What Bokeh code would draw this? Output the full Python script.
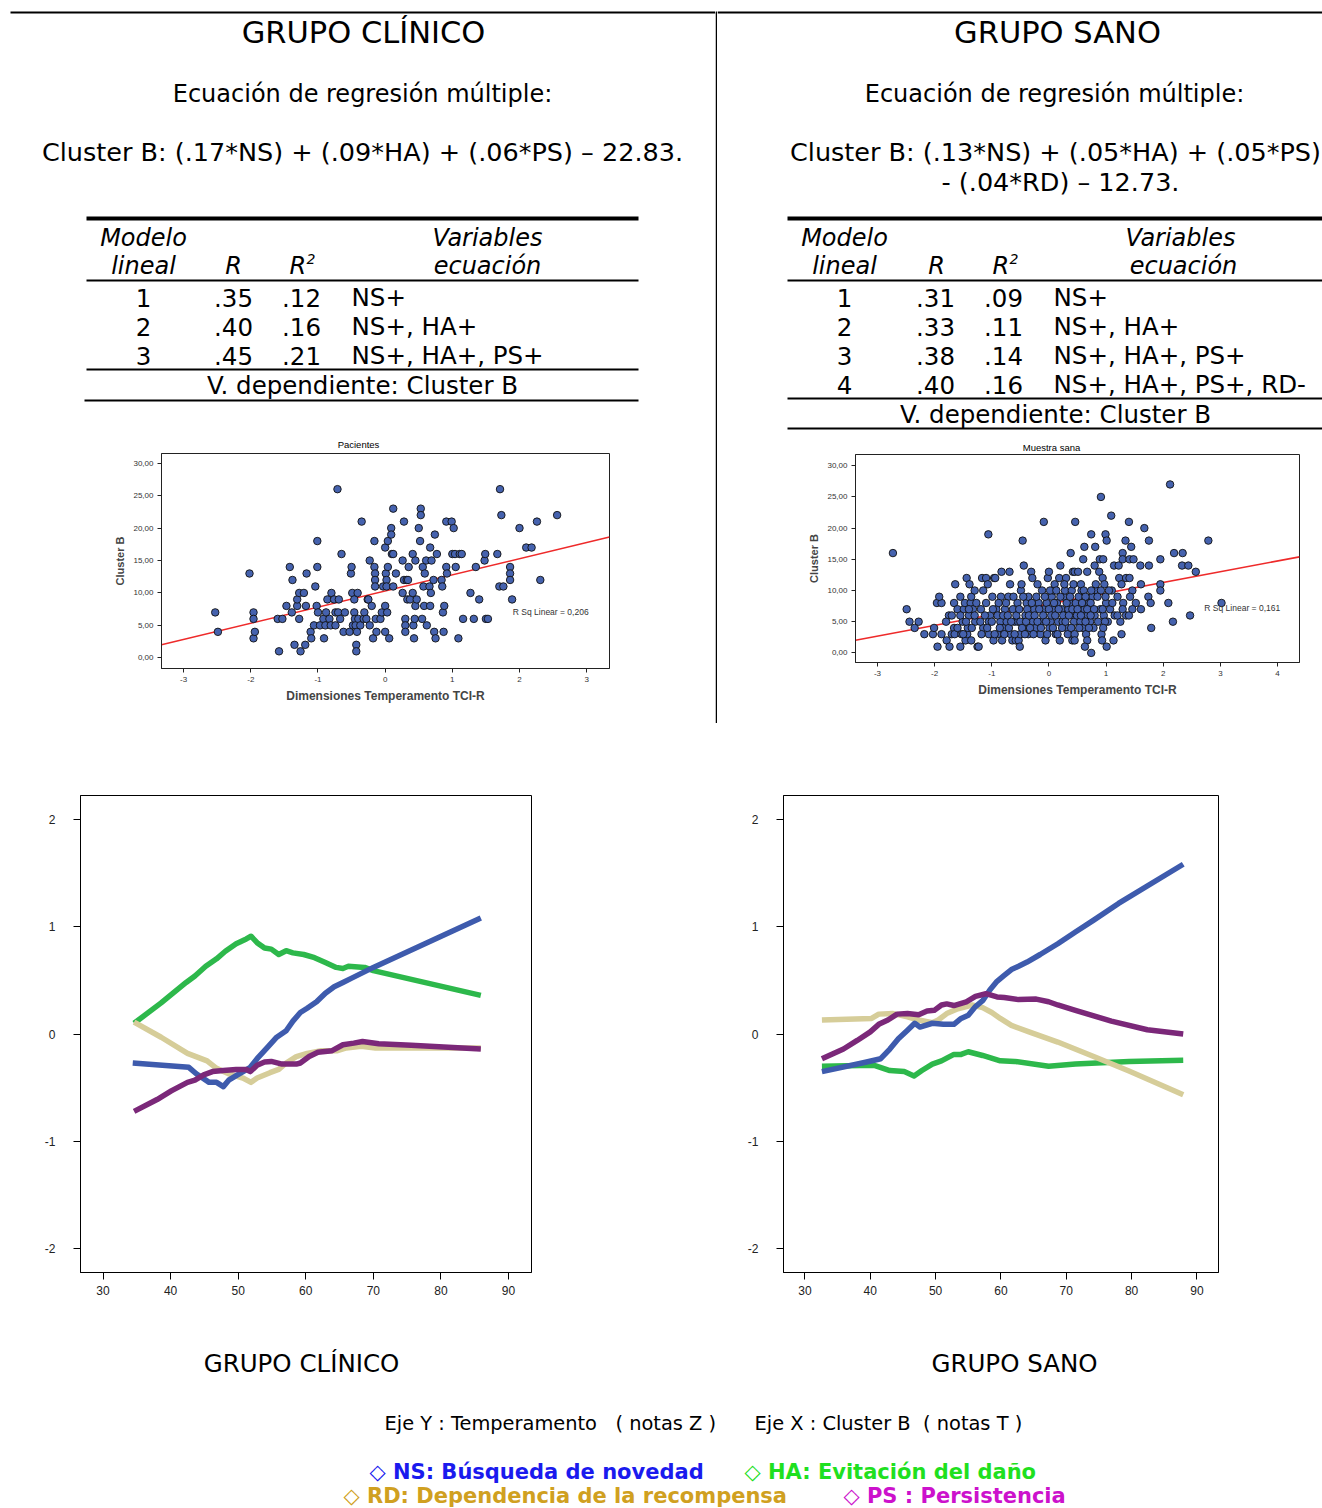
from bokeh.plotting import figure
from bokeh.layouts import column, row
from bokeh.models import Range1d, FixedTicker, CustomJSTickFormatter
from bokeh.core.properties import value
from bokeh.embed import file_html
from bokeh.resources import INLINE

# ---------------- DATA ----------------
# Scatter "Pacientes" (clinical group): x = TCI-R dimension (z), y = Cluster B
pac_x = [-2.53, -2.49, -2.02, -1.96, -1.96, -1.96, -1.94, -1.58, -1.60, -1.53, -1.47, -1.42, -1.38, -1.39,
         -1.35, -1.31, -1.31, -1.28, -1.28, -1.26, -1.21, -1.19, -1.18, -1.17, -1.11, -1.10, -1.06, -1.04,
         -1.02, -1.01, -1.01, -1.00, -0.97, -0.92, -0.91, -0.89, -0.88, -0.86, -0.83, -0.81, -0.80, -0.76,
         -0.74, -0.74, -0.71, -0.70, -0.69, -0.67, -0.65, -0.62, -0.60, -0.53, -0.51, -0.50, -0.49, -0.48,
         -0.46, -0.46, -0.45, -0.44, -0.43, -0.43, -0.42, -0.41, -0.40, -0.37, -0.35, -0.32, -0.31, -0.28,
         -0.26, -0.25, -0.23, -0.23, -0.20, -0.18, -0.16, -0.16, -0.15, -0.15, -0.15, -0.14, -0.13, -0.07,
         -0.05, -0.03, 0.00, 0.00, 0.00, 0.01, 0.02, 0.02, 0.03, 0.04, 0.04, 0.06, 0.09, 0.09, 0.10, 0.12,
         0.12, 0.12, 0.16, 0.26, 0.26, 0.28, 0.28, 0.30, 0.30, 0.30, 0.32, 0.33, 0.34, 0.35, 0.37, 0.41,
         0.41, 0.42, 0.43, 0.44, 0.45, 0.45, 0.47, 0.50, 0.52, 0.53, 0.53, 0.55, 0.56, 0.57, 0.58, 0.59,
         0.61, 0.62, 0.66, 0.67, 0.67, 0.68, 0.69, 0.72, 0.73, 0.74, 0.75, 0.77, 0.84, 0.85, 0.86, 0.87,
         0.88, 0.91, 0.91, 0.92, 0.99, 1.00, 1.02, 1.04, 1.05, 1.09, 1.11, 1.14, 1.16, 1.27, 1.32, 1.35,
         1.40, 1.48, 1.49, 1.50, 1.53, 1.67, 1.70, 1.71, 1.73, 1.76, 1.86, 1.86, 1.86, 1.89, 2.00, 2.10,
         2.18, 2.26, 2.31, 2.56]
pac_y = [7, 4, 13, 7, 6, 3, 4, 1, 6, 6, 8, 14, 12, 7,
         2, 8, 9, 10, 6, 1, 10, 2, 8, 13, 4, 3, 5, 11,
         8, 18, 14, 7, 5, 6, 3, 5, 7, 9, 6, 5, 10, 9,
         5, 7, 26, 7, 9, 6, 16, 4, 7, 4, 13, 14, 10, 5,
         7, 9, 6, 5, 2, 1, 4, 10, 6, 5, 21, 6, 7, 6,
         9, 9, 15, 5, 8, 3, 18, 14, 13, 12, 11, 6, 4, 6,
         7, 11, 17, 8, 4, 13, 12, 11, 7, 14, 18, 3, 20, 19, 16, 23,
         11, 16, 13, 15, 10, 21, 12, 6, 5, 4, 12, 9, 12, 14, 9, 16,
         10, 5, 3, 6, 15, 8, 9, 20, 18, 23, 22, 6, 14, 11, 8, 13,
         15, 5, 11, 8, 17, 10, 15, 12, 4, 19, 3, 16, 12, 11, 7, 4,
         8, 21, 14, 13, 21, 16, 20, 16, 14, 3, 16, 16, 6, 10, 6, 14,
         9, 15, 16, 6, 6, 16, 11, 26, 22, 11, 14, 13, 12, 9, 20, 17,
         17, 21, 12, 22]
pac_fit = [10.3, 2.49]          # intercept, slope of the linear fit
pac_rsq = "R Sq Linear = 0,206"

# Scatter "Muestra sana" (healthy group)
sana_pts = [
    (-2.73, 16), (-2.49, 7), (-2.44, 5), (-2.35, 4), (-2.28, 5), (-2.18, 3), (-2.03, 3), (-2.01, 4),
    (-1.95, 1), (-1.96, 8), (-1.88, 8), (-1.92, 9), (-1.88, 3), (-1.79, 2), (-1.75, 6), (-1.74, 1),
    (-1.70, 3), (-1.66, 4), (-1.66, 8), (-1.65, 3), (-1.64, 11), (-1.60, 7), (-1.55, 9), (-1.55, 1),
    (-1.53, 3), (-1.51, 5), (-1.49, 7), (-1.47, 8), (-1.46, 2), (-1.44, 12), (-1.43, 3), (-1.42, 4),
    (-1.40, 6), (-1.39, 11), (-1.37, 8), (-1.36, 9), (-1.36, 2), (-1.33, 7), (-1.30, 10), (-1.29, 5),
    (-1.25, 1), (-1.23, 1), (-1.19, 7), (-1.17, 12), (-1.10, 12), (-1.15, 10), (-1.15, 4), (-1.10, 8),
    (-1.07, 11), (-1.06, 19), (-1.05, 5), (-1.05, 3), (-1.03, 6), (-0.99, 9), (-0.97, 2), (-0.96, 12),
    (-0.94, 12), (-0.92, 7), (-0.90, 3), (-0.85, 5), (-0.84, 9), (-0.83, 13), (-0.82, 2), (-0.80, 4),
    (-0.77, 7), (-0.74, 5), (-0.71, 9), (-0.69, 13), (-0.68, 11), (-0.67, 3), (-0.64, 2), (-0.63, 7),
    (-0.60, 5), (-0.58, 2), (-0.55, 8), (-0.54, 5), (-0.53, 2), (-0.51, 1), (-0.50, 3), (-0.49, 10),
    (-0.48, 11), (-0.46, 18), (-0.44, 14), (-0.44, 4), (-0.41, 6), (-0.39, 8), (-0.36, 3), (-0.36, 9),
    (-0.31, 13), (-0.29, 12), (-0.28, 5), (-0.26, 7), (-0.23, 4), (-0.20, 11), (-0.18, 8), (-0.15, 3),
    (-0.13, 5), (-0.12, 10), (-0.09, 21), (-0.08, 7), (-0.06, 2), (-0.04, 8), (-0.02, 12), (0.00, 13),
    (0.01, 4), (0.03, 5), (0.05, 9), (0.06, 7), (0.08, 10), (0.10, 11), (0.12, 3), (0.14, 8),
    (0.16, 5), (0.18, 12), (0.19, 2), (0.20, 14), (0.22, 7), (0.24, 5), (0.26, 9), (0.28, 10),
    (0.30, 12), (0.32, 4), (0.34, 7), (0.36, 8), (0.38, 16), (0.40, 10), (0.41, 2), (0.42, 13),
    (0.44, 6), (0.44, 5), (0.46, 21),
    (-1.80, 5), (-1.70, 6), (-1.60, 4), (-1.55, 6), (-1.50, 3), (-1.45, 5), (-1.40, 7), (-1.35, 4),
    (-1.30, 6), (-1.27, 8), (-1.20, 5), (-1.18, 3), (-1.12, 6), (-1.08, 4), (-1.00, 5), (-0.98, 7),
    (-0.95, 3), (-0.90, 6), (-0.88, 8), (-0.86, 4), (-0.80, 6), (-0.78, 3), (-0.75, 8), (-0.72, 6),
    (-0.70, 4), (-0.66, 5), (-0.62, 9), (-0.60, 3), (-0.57, 6), (-0.52, 7), (-0.50, 5), (-0.47, 4),
    (-0.45, 9), (-0.42, 3), (-0.40, 5), (-0.38, 7), (-0.35, 6), (-0.33, 4), (-0.30, 8), (-0.27, 3),
    (-0.25, 6), (-0.22, 9), (-0.20, 5), (-0.17, 7), (-0.14, 4), (-0.10, 6), (-0.07, 9), (-0.05, 5),
    (-0.03, 3), (0.00, 7), (0.02, 10), (0.04, 6), (0.07, 4), (0.09, 8), (0.11, 6), (0.13, 10),
    (0.15, 3), (0.17, 7), (0.20, 9), (0.23, 4), (0.25, 6), (0.27, 11), (0.29, 5), (0.31, 8),
    (0.33, 3), (0.35, 6), (0.37, 9), (0.39, 4), (0.41, 7), (0.43, 11), (0.45, 3), (0.47, 8),
    (0.49, 6), (0.52, 9), (0.55, 5), (0.57, 10), (0.60, 4), (0.62, 7), (0.65, 3), (0.68, 6),
    (0.70, 8), (0.72, 5), (0.76, 9), (0.78, 4), (0.80, 6), (0.83, 10), (0.86, 5), (0.90, 7),
    (0.92, 3), (0.96, 6), (1.00, 8), (1.03, 5), (1.07, 7), (1.10, 10), (1.15, 6), (1.20, 9),
    (1.25, 5), (1.30, 8),
    (2.12, 27), (0.91, 25), (1.09, 22), (1.40, 21), (1.67, 20), (0.74, 19), (0.99, 19), (1.01, 18),
    (1.75, 18), (2.79, 18), (1.34, 18), (0.62, 17), (0.81, 17), (1.44, 17), (1.29, 16), (2.19, 16),
    (2.34, 16), (0.60, 15), (0.89, 15), (0.95, 15), (1.29, 15), (1.41, 15), (1.48, 15), (1.95, 15),
    (1.14, 14), (1.22, 14), (0.80, 14), (1.60, 14), (1.75, 14), (2.33, 14), (2.44, 14), (2.57, 13),
    (0.45, 13), (0.51, 13), (0.67, 13), (0.88, 13), (0.94, 12), (1.23, 12), (1.35, 12), (1.41, 12),
    (1.27, 11), (1.61, 11), (1.95, 11), (0.56, 11), (0.82, 11), (0.97, 11), (0.61, 10), (0.74, 10),
    (0.91, 10), (1.05, 10), (1.46, 10), (1.95, 10), (0.64, 9), (0.85, 9), (0.99, 9), (1.42, 9),
    (1.74, 9), (0.58, 8), (0.73, 8), (1.11, 8), (1.52, 8), (1.78, 8), (2.09, 8), (3.02, 8),
    (0.50, 7), (0.67, 7), (0.79, 7), (0.94, 7), (1.29, 7), (1.46, 7), (1.61, 7), (0.56, 6),
    (0.73, 6), (1.20, 6), (1.35, 6), (1.40, 6), (2.47, 6), (2.17, 5), (0.98, 5), (0.64, 5),
    (1.79, 4), (0.95, 4), (0.70, 4), (0.53, 4), (1.27, 3), (1.13, 2), (0.93, 2), (0.67, 2),
    (0.45, 2), (0.63, 1), (1.01, 1), (0.74, 0),
]
sana_x = [p[0] for p in sana_pts]
sana_y = [p[1] for p in sana_pts]
sana_fit = [7.85, 1.72]
sana_rsq = "R Sq Linear = 0,161"

# Line plots (Temperament z-scores vs Cluster B T-scores)
cli_ns_x = [34.4, 42.7, 43.8, 45.7, 46.8, 47.8, 48.6, 49.9, 51.8, 52.8, 54.4, 55.7, 57.1, 58.1, 59.2, 60.2,
            61.6, 62.9, 64.2, 65.5, 66.8, 70.0, 85.9]
cli_ns_y = [-0.27, -0.31, -0.37, -0.45, -0.45, -0.49, -0.43, -0.38, -0.31, -0.23, -0.12, -0.03, 0.03, 0.12,
            0.20, 0.24, 0.30, 0.38, 0.44, 0.48, 0.52, 0.62, 1.08]
cli_ha_x = [34.6, 38.6, 42.3, 43.6, 45.2, 46.8, 48.1, 49.7, 51.2, 51.9, 52.8, 53.9, 54.9, 56.0, 57.1, 58.1,
            59.7, 61.3, 62.9, 64.5, 65.5, 66.3, 68.7, 70.0, 85.9]
cli_ha_y = [0.10, 0.29, 0.48, 0.54, 0.63, 0.70, 0.77, 0.84, 0.885, 0.91, 0.85, 0.80, 0.79, 0.74, 0.775, 0.755,
            0.74, 0.71, 0.665, 0.62, 0.61, 0.63, 0.62, 0.59, 0.36]
cli_rd_x = [34.6, 38.6, 42.5, 45.4, 46.8, 48.6, 50.7, 51.9, 52.8, 54.7, 56.0, 57.1, 58.6, 60.2, 62.3, 64.7,
            66.0, 68.2, 70.3, 85.9]
cli_rd_y = [0.11, -0.03, -0.18, -0.25, -0.32, -0.37, -0.41, -0.45, -0.41, -0.36, -0.33, -0.27, -0.21, -0.18,
            -0.155, -0.155, -0.13, -0.115, -0.13, -0.13]
cli_ps_x = [34.6, 38.0, 40.1, 42.5, 43.6, 44.9, 46.2, 47.8, 49.7, 51.2, 51.8, 52.8, 53.9, 54.9, 56.5, 58.6,
            59.2, 60.5, 61.8, 63.9, 65.5, 67.1, 68.4, 70.8, 75.6, 85.9]
cli_ps_y = [-0.72, -0.61, -0.53, -0.45, -0.43, -0.38, -0.35, -0.34, -0.33, -0.33, -0.35, -0.29, -0.26, -0.255,
            -0.28, -0.28, -0.27, -0.21, -0.17, -0.155, -0.10, -0.085, -0.07, -0.09, -0.105, -0.14]

san_ns_x = [32.6, 39.1, 41.6, 43.0, 44.3, 45.7, 46.8, 47.6, 49.5, 51.2, 52.8, 53.9, 55.0, 56.1, 57.2, 58.3,
            59.4, 60.5, 61.6, 62.7, 64.0, 66.0, 68.7, 71.4, 74.2, 78.0, 87.9]
san_ns_y = [-0.35, -0.265, -0.23, -0.14, -0.045, 0.035, 0.10, 0.065, 0.10, 0.09, 0.09, 0.145, 0.175, 0.255,
            0.31, 0.41, 0.49, 0.545, 0.60, 0.63, 0.67, 0.74, 0.84, 0.95, 1.06, 1.215, 1.58]
san_ha_x = [32.6, 40.5, 43.0, 45.2, 46.7, 47.9, 49.5, 50.9, 52.8, 53.9, 55.0, 57.2, 59.9, 62.1, 67.3, 71.4,
            79.6, 87.9]
san_ha_y = [-0.30, -0.29, -0.34, -0.35, -0.39, -0.34, -0.28, -0.25, -0.19, -0.19, -0.165, -0.20, -0.25,
            -0.255, -0.30, -0.28, -0.255, -0.245]
san_rd_x = [32.6, 40.2, 41.3, 43.5, 45.7, 47.4, 49.5, 50.4, 51.7, 53.4, 55.6, 57.2, 58.6, 59.9, 61.6, 64.3,
            68.7, 74.2, 79.6, 87.9]
san_rd_y = [0.13, 0.145, 0.185, 0.19, 0.16, 0.13, 0.105, 0.13, 0.19, 0.235, 0.27, 0.245, 0.20, 0.145, 0.08,
            0.02, -0.075, -0.21, -0.345, -0.565]
san_ps_x = [32.6, 35.9, 38.0, 40.0, 41.3, 42.7, 44.1, 45.7, 47.4, 48.7, 49.8, 50.9, 51.7, 52.8, 54.7, 56.1,
            57.7, 59.4, 60.5, 62.7, 65.4, 67.3, 68.7, 71.4, 76.9, 82.4, 87.9]
san_ps_y = [-0.23, -0.14, -0.06, 0.02, 0.09, 0.13, 0.185, 0.19, 0.18, 0.215, 0.22, 0.27, 0.28, 0.265, 0.30,
            0.35, 0.375, 0.345, 0.34, 0.32, 0.325, 0.30, 0.27, 0.22, 0.12, 0.04, 0.0]

line_x_ticks = [30, 40, 50, 60, 70, 80, 90]
line_y_ticks = [-2, -1, 0, 1, 2]
pac_x_ticks = [-3, -2, -1, 0, 1, 2, 3]
sana_x_ticks = [-3, -2, -1, 0, 1, 2, 3, 4]
scat_y_ticks = [0, 5, 10, 15, 20, 25, 30]

# Tables
cli_rows = [("1", ".35", ".12", "NS+"), ("2", ".40", ".16", "NS+, HA+"), ("3", ".45", ".21", "NS+, HA+, PS+")]
san_rows = [("1", ".31", ".09", "NS+"), ("2", ".33", ".11", "NS+, HA+"), ("3", ".38", ".14", "NS+, HA+, PS+"),
            ("4", ".40", ".16", "NS+, HA+, PS+, RD-")]

# ---------------- STYLE ----------------
FONT = value("DejaVu Sans")
ARIAL = "Liberation Sans"
C_NS, C_HA, C_RD, C_PS = "#3E5BAD", "#2DB84B", "#D6CD99", "#7B2879"
NB = "\u00a0"


def no_align(p):
    try:
        p.frame_align = False
    except Exception:
        pass
    return p


def canvas(w, h, x0, y0):
    p = figure(width=w, height=h, x_range=Range1d(x0, x0 + w), y_range=Range1d(y0 + h, y0),
               toolbar_location=None, output_backend="svg", min_border=0)
    p.axis.visible = False
    p.grid.visible = False
    p.outline_line_color = None
    return no_align(p)


def txt(p, x, y, s, size, align="center", style="normal", color="black", font=FONT):
    p.text(x=[x], y=[y], text=[s], text_font=font, text_font_size=size, text_align=align,
           text_baseline="middle", text_font_style=style, text_color=color)


def hline(p, x0, x1, y, w=2):
    p.segment(x0=[x0], y0=[y], x1=[x1], y1=[y], line_color="black", line_width=w)


TOP_H = 452
BODY = "24.5px"
HEAD = "24px"

# ---------------- TOP TEXT: CLINICAL ----------------
tL = canvas(715, TOP_H, 0, 0)
hline(tL, 10, 715, 12)
txt(tL, 363, 31.5, "GRUPO CLÍNICO", "30.5px")
txt(tL, 362, 93, "Ecuación de regresión múltiple:", "24px")
txt(tL, 362, 151, "Cluster B: (.17*NS) + (.09*HA) + (.06*PS) – 22.83.", "25.5px")
hline(tL, 86, 638, 218, 4)
txt(tL, 143, 237, "Modelo", HEAD, style="italic")
txt(tL, 487, 237, "Variables", HEAD, style="italic")
txt(tL, 143, 265, "lineal", HEAD, style="italic")
txt(tL, 233, 265, "R", HEAD, style="italic")
txt(tL, 289, 265, "R", HEAD, align="left", style="italic")
txt(tL, 306, 258, "2", "14px", align="left", style="italic")
txt(tL, 487, 265, "ecuación", HEAD, style="italic")
hline(tL, 86, 638, 280, 2)
for i, (m, r, r2, v) in enumerate(cli_rows):
    yc = 297 + i * 29
    txt(tL, 143, yc, m, BODY)
    txt(tL, 233, yc, r, BODY)
    txt(tL, 301, yc, r2, BODY)
    txt(tL, 351, yc, v, BODY, align="left")
hline(tL, 86, 638, 369, 2)
txt(tL, 362, 385, "V. dependiente: Cluster B", BODY)
hline(tL, 84, 638, 400, 2)
txt(tL, 358, 444, "Pacientes", "9.5px", font=value(ARIAL))

# ---------------- TOP TEXT: HEALTHY ----------------
tR = canvas(605, TOP_H, 717, 0)
hline(tR, 717, 1322, 12)
txt(tR, 1057, 32, "GRUPO SANO", "30.5px")
txt(tR, 1054, 93, "Ecuación de regresión múltiple:", "24px")
txt(tR, 1055, 151, "Cluster B: (.13*NS) + (.05*HA) + (.05*PS)", "25.5px")
txt(tR, 1060, 181, "- (.04*RD) – 12.73.", "25.5px")
hline(tR, 787, 1322, 218, 4)
txt(tR, 844, 237, "Modelo", HEAD, style="italic")
txt(tR, 1180, 237, "Variables", HEAD, style="italic")
txt(tR, 844, 265, "lineal", HEAD, style="italic")
txt(tR, 936, 265, "R", HEAD, style="italic")
txt(tR, 992, 265, "R", HEAD, align="left", style="italic")
txt(tR, 1009, 258, "2", "14px", align="left", style="italic")
txt(tR, 1183, 265, "ecuación", HEAD, style="italic")
hline(tR, 787, 1322, 280, 2)
for i, (m, r, r2, v) in enumerate(san_rows):
    yc = 297 + i * 29
    txt(tR, 844, yc, m, BODY)
    txt(tR, 935, yc, r, BODY)
    txt(tR, 1003, yc, r2, BODY)
    txt(tR, 1053, yc, v, BODY, align="left")
hline(tR, 787, 1322, 398, 2)
txt(tR, 1055, 414, "V. dependiente: Cluster B", BODY)
hline(tR, 787, 1322, 428, 2)
txt(tR, 1051, 447, "Muestra sana", "9.5px", font=value(ARIAL))


# ---------------- SCATTER PLOTS ----------------
def scatter_fig(w, xr, yr, xs, ys, fit, rsq, rsq_pos, xticks, borders):
    bl, br, bt, bb = borders
    p = figure(width=w, height=723 - TOP_H, x_range=Range1d(*xr), y_range=Range1d(*yr), toolbar_location=None,
               output_backend="svg", min_border_left=bl, min_border_right=br, min_border_top=bt,
               min_border_bottom=bb)
    no_align(p)
    p.grid.visible = False
    p.outline_line_color = "#222222"
    p.outline_line_width = 1
    p.segment(x0=[xr[0]], y0=[fit[0] + fit[1] * xr[0]], x1=[xr[1]], y1=[fit[0] + fit[1] * xr[1]],
              line_color="#EE2A2A", line_width=1.6)
    p.scatter(xs, ys, size=7.5, fill_color="#4562AE", line_color="#111111", line_width=0.9)
    p.text(x=[rsq_pos[0]], y=[rsq_pos[1]], text=[rsq], text_font=value(ARIAL), text_font_size="8.5px",
           text_baseline="middle", text_color="#333333")
    p.xaxis.ticker = FixedTicker(ticks=xticks)
    p.yaxis.ticker = FixedTicker(ticks=scat_y_ticks)
    p.yaxis.formatter = CustomJSTickFormatter(code="return tick.toFixed(2).replace('.', ',');")
    p.xaxis.formatter = CustomJSTickFormatter(code="return tick.toString();")
    for ax in (p.xaxis[0], p.yaxis[0]):
        ax.major_label_text_font = ARIAL
        ax.major_label_text_font_size = "8px"
        ax.major_label_text_color = "#333333"
        ax.minor_tick_line_color = None
        ax.major_tick_out = 4
        ax.major_tick_in = 0
        ax.major_label_standoff = 4
        ax.axis_line_color = "#222222"
        ax.major_tick_line_color = "#222222"
        ax.axis_label_text_font = ARIAL
        ax.axis_label_text_font_style = "bold"
        ax.axis_label_standoff = 4
    p.xaxis.axis_label = "Dimensiones Temperamento TCI-R"
    p.xaxis.axis_label_text_font_size = "12px"
    p.yaxis.axis_label = "Cluster B"
    p.yaxis.axis_label_text_font_size = "11px"
    return p


sL = scatter_fig(715, (-3.33, 3.34), (-1.65, 31.5), pac_x, pac_y, pac_fit, pac_rsq, (1.90, 7.1),
                 pac_x_ticks, (161, 106, 1, 55))
sR = scatter_fig(605, (-3.385, 4.385), (-1.54, 31.8), sana_x, sana_y, sana_fit, sana_rsq, (2.72, 7.15),
                 sana_x_ticks, (138, 23, 2, 61))

# vertical separator (between the two top panels) and horizontal rule
vsep = canvas(2, 723, 0, 0)
vsep.segment(x0=[1], y0=[12], x1=[1], y1=[723], line_color="black", line_width=2)
hline(vsep, 0, 2, 12)
hsep = canvas(1322, 2, 0, 723)
hline(hsep, 10, 1322, 724, 2)


# ---------------- LINE PLOTS ----------------
def line_fig(w, xr, borders, series):
    bl, br, bt, bb = borders
    p = figure(width=w, height=585, x_range=Range1d(*xr), y_range=Range1d(-2.22, 2.22), toolbar_location=None,
               output_backend="svg", min_border_left=bl, min_border_right=br, min_border_top=bt,
               min_border_bottom=bb)
    no_align(p)
    p.grid.visible = False
    p.outline_line_color = "black"
    p.outline_line_width = 1
    for xs, ys, c in series:
        p.line(xs, ys, line_color=c, line_width=5.5, line_join="round")
    p.xaxis.ticker = FixedTicker(ticks=line_x_ticks)
    p.yaxis.ticker = FixedTicker(ticks=line_y_ticks)
    p.yaxis.formatter = CustomJSTickFormatter(code="return tick.toString();")
    for ax in (p.xaxis[0], p.yaxis[0]):
        ax.major_label_text_font = ARIAL
        ax.major_label_text_font_size = "12px"
        ax.major_label_text_color = "#222222"
        ax.minor_tick_line_color = None
        ax.major_tick_out = 7
        ax.major_tick_in = 0
        ax.axis_line_color = "black"
    p.yaxis.major_label_standoff = 18
    p.xaxis.major_label_standoff = 6
    return p


lL = line_fig(716, (26.67, 93.4), (80, 185, 70, 38),
              [(cli_ha_x, cli_ha_y, C_HA), (cli_rd_x, cli_rd_y, C_RD), (cli_ns_x, cli_ns_y, C_NS),
               (cli_ps_x, cli_ps_y, C_PS)])
lR = line_fig(606, (26.72, 93.3), (67, 104, 70, 38),
              [(san_ha_x, san_ha_y, C_HA), (san_rd_x, san_rd_y, C_RD), (san_ns_x, san_ns_y, C_NS),
               (san_ps_x, san_ps_y, C_PS)])

# ---------------- BOTTOM TEXT ----------------
bt = canvas(1322, 198, 0, 1310)
txt(bt, 301, 1363, "GRUPO CLÍNICO", "24.5px")
txt(bt, 1014, 1363, "GRUPO SANO", "24.5px")
txt(bt, 384, 1423, "Eje Y : Temperamento" + NB * 3 + "( notas Z )", "19.4px", align="left")
txt(bt, 754, 1423, "Eje X : Cluster B" + NB * 2 + "( notas T )", "19.4px", align="left")
txt(bt, 369, 1471, "◇ NS: Búsqueda de novedad", "21px", align="left", style="bold", color="#1A1AEE")
txt(bt, 744, 1471, "◇ HA: Evitación del daño", "21px", align="left", style="bold", color="#1FE01F")
txt(bt, 343, 1495, "◇ RD: Dependencia de la recompensa", "21px", align="left", style="bold", color="#D0A020")
txt(bt, 843, 1495, "◇ PS : Persistencia", "21px", align="left", style="bold", color="#CC11CC")

layout = column(
    row(column(tL, sL), vsep, column(tR, sR)),
    hsep,
    row(lL, lR),
    bt,
)

open("out.html", "w").write(file_html(layout, INLINE))
